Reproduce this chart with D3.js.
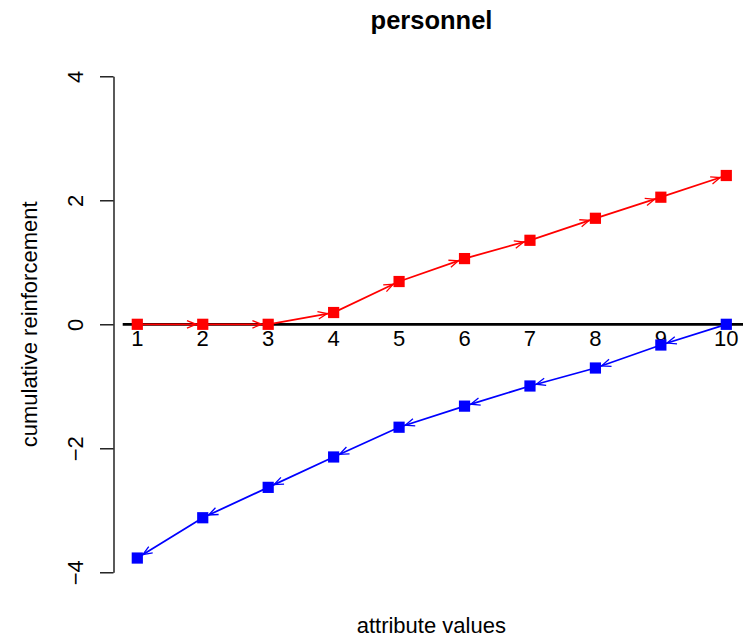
<!DOCTYPE html>
<html>
<head>
<meta charset="utf-8">
<script src="https://cdn.jsdelivr.net/npm/d3@7"></script>
<style>
  html, body { margin: 0; padding: 0; background: #ffffff; }
  svg { display: block; font-family: "Liberation Sans", Arial, Helvetica, sans-serif; }
</style>
</head>
<body>
<svg id="chart" width="743" height="642"></svg>
<script>
const categories = [1, 2, 3, 4, 5, 6, 7, 8, 9, 10];
const redValues  = [0, 0, 0, 0.19, 0.69, 1.06, 1.355, 1.71, 2.05, 2.40];
const blueValues = [-3.77, -3.12, -2.63, -2.14, -1.66, -1.32, -0.995, -0.705, -0.334, 0];
const yTicks = [-4, -2, 0, 2, 4];
const titleText = "personnel";
const xLabel = "attribute values";
const yLabel = "cumulative reinforcement";

const svg = d3.select("#chart");
const W = 743, H = 642;

const x = d3.scaleLinear().domain([1, 10]).range([137.3, 726.3]);
const y = d3.scaleLinear().domain([-4, 4]).range([572.3, 76.3]);
const axisX = x(0.64) ; // left edge of plot region

// clip to the page
svg.append("defs").append("clipPath").attr("id", "clip")
  .append("rect").attr("x", 0).attr("y", 0).attr("width", W).attr("height", H);

// Title
svg.append("text")
  .attr("x", 431.5).attr("y", 28.5)
  .attr("text-anchor", "middle")
  .style("font-size", "25.5px").style("font-weight", "bold")
  .text(titleText);

// X label
svg.append("text")
  .attr("x", 431.3).attr("y", 633)
  .attr("text-anchor", "middle")
  .style("font-size", "22px")
  .text(xLabel);

// Y label
svg.append("text")
  .attr("transform", `translate(36.5,${y(0)}) rotate(-90)`)
  .attr("text-anchor", "middle")
  .style("font-size", "22px")
  .text(yLabel);

// Y axis
const fmt = v => (v < 0 ? "\u2212" + Math.abs(v) : String(v));
const yAxis = d3.axisLeft(y).tickValues(yTicks).tickSize(13.5).tickSizeOuter(0).tickFormat(fmt);
const gy = svg.append("g").attr("transform", "translate(113.5,0)").call(yAxis);
gy.select(".domain").attr("stroke", "#000").attr("stroke-width", 1.3);
gy.selectAll(".tick line").attr("stroke", "#000").attr("stroke-width", 1.3);
gy.selectAll(".tick text")
  .attr("x", null).attr("dy", null)
  .attr("fill", "#000")
  .attr("text-anchor", "middle")
  .attr("transform", "translate(-30.2,0) rotate(-90)")
  .style("font-size", "22px")
  .style("font-family", "\"Liberation Sans\", Arial, Helvetica, sans-serif");

// zero reference line
svg.append("line")
  .attr("clip-path", "url(#clip)")
  .attr("x1", x(0.777)).attr("x2", x(10.4))
  .attr("y1", y(0)).attr("y2", y(0))
  .attr("stroke", "#000").attr("stroke-width", 2.7);

// category labels beneath the zero line
svg.append("g").selectAll("text").data(categories).join("text")
  .attr("x", d => x(d)).attr("y", y(0) + 21.8)
  .attr("text-anchor", "middle")
  .style("font-size", "22px")
  .text(d => d);

function drawSeries(values, color, forward) {
  const g = svg.append("g");
  const pts = categories.map((c, i) => [x(c), y(values[i])]);
  // connecting lines
  g.append("path")
    .attr("d", d3.line()(pts))
    .attr("fill", "none").attr("stroke", color).attr("stroke-width", 1.8);
  // arrowheads
  const headLen = 10, ang = 22 * Math.PI / 180, gap = 6.5;
  for (let i = 0; i < pts.length - 1; i++) {
    const from = forward ? pts[i] : pts[i + 1];
    const to = forward ? pts[i + 1] : pts[i];
    const dx = to[0] - from[0], dy = to[1] - from[1];
    const len = Math.hypot(dx, dy);
    const ux = dx / len, uy = dy / len;
    const tip = [to[0] - ux * gap, to[1] - uy * gap];
    const back = Math.atan2(-uy, -ux);
    const a1 = [tip[0] + headLen * Math.cos(back + ang), tip[1] + headLen * Math.sin(back + ang)];
    const a2 = [tip[0] + headLen * Math.cos(back - ang), tip[1] + headLen * Math.sin(back - ang)];
    g.append("path")
      .attr("d", `M${a1[0]},${a1[1]}L${tip[0]},${tip[1]}L${a2[0]},${a2[1]}`)
      .attr("fill", "none").attr("stroke", color).attr("stroke-width", 1.3);
  }
  // square markers
  g.selectAll("rect").data(categories).join("rect")
    .attr("x", (d, i) => x(d) - 5.6).attr("y", (d, i) => y(values[i]) - 5.6)
    .attr("width", 11.2).attr("height", 11.2)
    .attr("fill", color);
}

drawSeries(redValues, "#ff0000", true);
drawSeries(blueValues, "#0000ff", false);
</script>
</body>
</html>
